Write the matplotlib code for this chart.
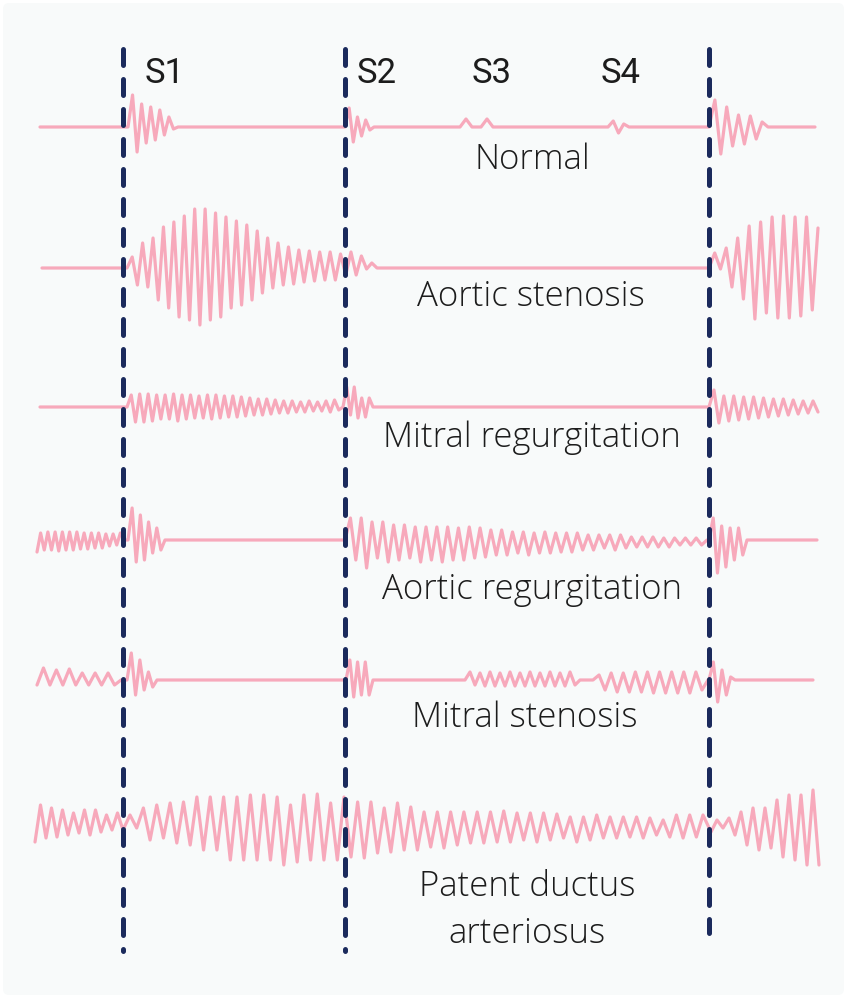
import matplotlib
matplotlib.use("Agg")
import matplotlib.pyplot as plt
from matplotlib.patches import FancyBboxPatch
import numpy as np

# ---------------- data ----------------
ROW_NAMES = ["Normal", "Aortic stenosis", "Mitral regurgitation",
             "Aortic regurgitation", "Mitral stenosis", "Patent ductus\narteriosus"]
SOUND_LABELS = ["S1", "S2", "S3", "S4"]
SOUND_TIMES = [165, 377, 492, 621]
BEAT_TIMES = [123, 345, 709]
BEAT_ENDS = [954, 954, 936]

# burst: (t_start, t_end, up amplitudes, down amplitudes, first, open_start, open_end)
NORMAL = [
    (128, 178, [32, 23, 20, 17, 10], [25, 16, 13, 8, 2], "u", False, False),
    (345, 374, [19, 10, 7], [15, 9, 3], "u", False, False),
    (460, 472, [8], [], "u", False, False),
    (481, 493, [8], [], "u", False, False),
    (608, 629, [6, 3], [6], "u", False, False),
    (709, 768, [27, 20, 12, 11, 5], [27, 19, 17, 12], "u", False, False),
]
AORTIC_STENOSIS = [
    (127, 377,
     [11, 25, 30, 41, 46, 52, 59, 59, 55, 51, 47, 43, 37, 30, 25, 21, 18, 17, 16, 16, 14, 16, 12, 5],
     [17, 19, 32, 40, 49, 52, 57, 52, 49, 40, 37, 32, 25, 20, 17, 16, 14, 13, 12, 12, 7, 7, 1],
     "u", False, False),
    (709, 818, [15, 20, 30, 42, 46, 51, 52, 51, 51, 40], [1, 19, 31, 51, 45, 50, 50, 48, 42],
     "u", False, True),
]
MITRAL_REGURG = [
    (127, 343,
     [12, 13, 13, 12, 12, 13, 12, 12, 11, 12, 12, 11, 11, 10, 9, 8, 8, 7, 6, 6, 5, 6, 5, 6, 7],
     [15, 15, 14, 12, 12, 14, 12, 11, 11, 12, 11, 10, 10, 9, 8, 8, 7, 6, 6, 5, 5, 4, 4, 5, 3],
     "u", False, False),
    (343, 373, [20, 20, 9, 9], [8, 11, 10], "u", False, False),
    (709, 818, [17, 11, 11, 10, 10, 9, 8, 8, 7, 6, 6], [16, 14, 13, 12, 11, 10, 9, 8, 7, 6, 5],
     "u", False, True),
]
AORTIC_REGURG = [
    (37, 124, [7, 8, 8, 8, 8, 8, 7, 7, 7, 6, 6, 7], [12, 10, 10, 11, 10, 10, 9, 9, 8, 8, 6, 5],
     "d", True, False),
    (128, 165, [32, 25, 18, 12], [22, 20, 13, 10], "u", False, False),
    (345, 707,
     [22, 22, 18, 18, 15, 15, 13, 13, 13, 13, 12, 13, 12, 10, 10, 8, 8, 7, 8, 7, 7, 7, 5, 5, 5, 5,
      3, 3, 3, 2, 2, 2, 2],
     [20, 28, 18, 22, 20, 18, 22, 20, 22, 20, 20, 18, 17, 15, 15, 13, 15, 13, 13, 12, 12, 10, 10,
      8, 10, 8, 7, 7, 7, 7, 5, 5, 5],
     "u", False, False),
    (709, 747, [22, 14, 12, 12], [33, 27, 20, 15], "u", False, False),
]
MITRAL_STENOSIS = [
    (37, 121, [12, 10, 11, 7, 7, 7], [5, 5, 5, 5, 5, 5, 5], "d", True, False),
    (127, 157, [27, 20, 8], [15, 10, 7], "u", False, False),
    (346, 373, [20, 18, 18], [17, 15, 15], "u", False, False),
    (465, 580, [8, 7, 8, 7, 8, 7, 8, 7, 8, 7, 8], [5, 6, 6, 6, 6, 6, 6, 6, 6, 6, 5],
     "u", False, False),
    (593, 708, [5, 7, 7, 8, 8, 8, 8, 8, 8], [10, 12, 12, 12, 13, 13, 13, 13, 10],
     "u", False, False),
    (709, 735, [18, 10, 3], [22, 15], "u", False, False),
]
PATENT_DUCTUS = [
    (35, 123, [17, 14, 12, 9, 12, 12, 7, 9], [20, 16, 15, 13, 11, 13, 10, 8, 8],
     "d", True, True),
    (130, 344, [7, 14, 17, 19, 20, 25, 25, 25, 25, 27, 27, 25, 17, 27, 28, 19, 25],
     [6, 18, 16, 21, 23, 28, 28, 38, 38, 38, 38, 43, 40, 38, 38, 38],
     "u", True, True),
    (351, 703,
     [20, 20, 14, 19, 15, 10, 10, 10, 10, 10, 10, 11, 9, 9, 9, 8, 5, 5, 7, 5, 5, 5, 4, 2, 7, 7, 7],
     [35, 36, 31, 30, 28, 28, 25, 26, 23, 21, 21, 20, 20, 18, 20, 18, 16, 20, 18, 16, 16, 15, 16,
      13, 15, 16, 15],
     "d", True, True),
    (711, 819, [2, 4, 10, 14, 14, 22, 27, 27, 32], [10, 6, 13, 23, 28, 26, 35, 38, 43, 43],
     "d", True, True),
]
ROW_BURSTS = [NORMAL, AORTIC_STENOSIS, MITRAL_REGURG, AORTIC_REGURG, MITRAL_STENOSIS, PATENT_DUCTUS]
ROW_START = [40, 42, 40, None, None, None]
ROW_END = [815, None, None, 817, 813, None]

# ---------------- layout / style ----------------
W, H = 847, 998
ROW_BASE = [127, 268, 407, 540, 680, 822]
LABEL_X = [532, 531, 532, 532, 525, 527]
LABEL_Y = [169, 306, 447, 599, 727, 896]
PINK = "#f7a9bb"
NAVY = "#1b2a5c"
TEXT = "#1c1c1c"

fig = plt.figure(figsize=(W / 100, H / 100), dpi=100)
fig.patch.set_facecolor("white")
ax = fig.add_axes([0, 0, 1, 1])
ax.set_xlim(0, W)
ax.set_ylim(H, 0)
ax.axis("off")
ax.add_patch(FancyBboxPatch((3, 3), W - 6, H - 6, boxstyle="round,pad=0,rounding_size=6",
                            facecolor="#f8fafa", edgecolor="none", zorder=0))


def burst_points(b, base):
    t0, t1, ups, downs, first, open_s, open_e = b
    a, c = (ups, downs) if first == "u" else (downs, ups)
    sa, sc = (-1, 1) if first == "u" else (1, -1)
    seq = []
    for i in range(max(len(a), len(c))):
        if i < len(a):
            seq.append(sa * a[i])
        if i < len(c):
            seq.append(sc * c[i])
    n = len(seq)
    if open_s and open_e:
        xs = list(np.linspace(t0, t1, n))
    elif open_s:
        step = (t1 - t0) / n
        xs = [t0 + i * step for i in range(n)]
    elif open_e:
        step = (t1 - t0) / n
        xs = [t0 + (i + 1) * step for i in range(n)]
    else:
        step = (t1 - t0) / (n + 1)
        xs = [t0 + (i + 1) * step for i in range(n)]
    px, py = [], []
    if not open_s:
        px.append(t0); py.append(base)
    px += xs
    py += [base + v for v in seq]
    if not open_e:
        px.append(t1); py.append(base)
    return px, py


for bursts, base, x0, x1 in zip(ROW_BURSTS, ROW_BASE, ROW_START, ROW_END):
    X, Y = [], []
    if x0 is not None:
        X.append(x0); Y.append(base)
    for b in bursts:
        px, py = burst_points(b, base)
        X += px; Y += py
    if x1 is not None:
        X.append(x1); Y.append(base)
    ax.plot(X, Y, color=PINK, lw=2.3, solid_joinstyle="round", solid_capstyle="round", zorder=2)

lw_d = 3.6
for xt, ye in zip(BEAT_TIMES, BEAT_ENDS):
    ax.plot([xt, xt], [49, ye - 3], color=NAVY, lw=lw_d, linestyle=(0, (3.2, 2.8)),
            dash_capstyle="round", zorder=3)

for lab, xt in zip(SOUND_LABELS, SOUND_TIMES):
    ax.text(xt, 83, lab, ha="center", va="baseline", fontsize=25, color=TEXT,
            family="Roboto", fontweight="normal", zorder=4)

for name, lx, ly in zip(ROW_NAMES, LABEL_X, LABEL_Y):
    lines = name.split("\n")
    for k, ln in enumerate(lines):
        ax.text(lx, ly + k * 47, ln, ha="center", va="baseline", fontsize=25, color=TEXT,
                family="Open Sans", fontweight="light", zorder=4)

fig.savefig("out.png", dpi=100, facecolor=fig.get_facecolor())
